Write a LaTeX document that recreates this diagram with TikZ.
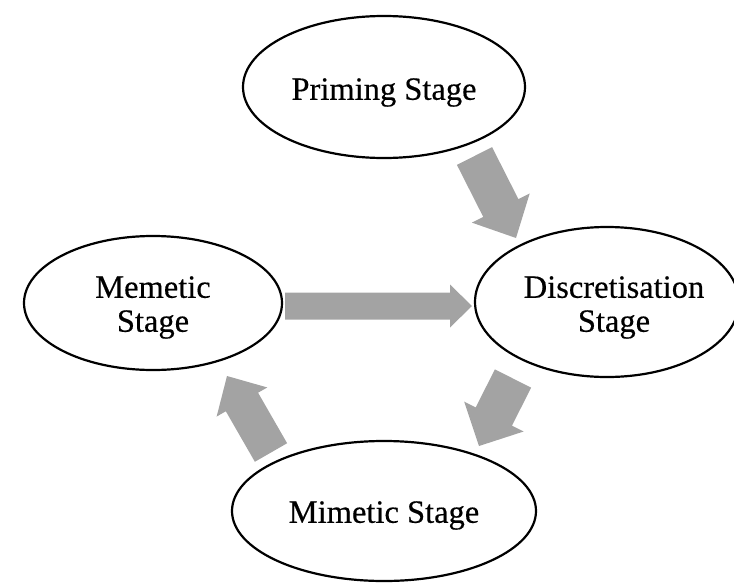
\documentclass[tikz,border=0pt]{standalone}
\usepackage{fontspec}
\setmainfont{Liberation Serif}[FakeBold=0.4]
\usetikzlibrary{shapes.geometric,calc}
\definecolor{arrowgrey}{RGB}{163,163,163}

% Block arrow: #1 tail coordinate, #2 tip coordinate,
% #3 half shaft width, #4 half head width, #5 head length
\newcommand{\blockarrow}[5]{%
  \coordinate (#1-neck) at ($(#2)!#5!(#1)$);
  \fill[arrowgrey]
    ($(#1)!#3!90:(#2)$) -- ($(#1-neck)!#3!90:(#2)$) --
    ($(#1-neck)!#4!90:(#2)$) -- (#2) --
    ($(#1-neck)!#4!-90:(#2)$) -- ($(#1-neck)!#3!-90:(#2)$) --
    ($(#1)!#3!-90:(#2)$) -- cycle;}

\tikzset{
  stage/.style={ellipse, draw=black, line width=2.2pt, fill=white,
    inner sep=0pt},
  stagetext/.style={inner sep=0pt, align=center,
    font=\fontsize{32.5}{34}\selectfont}
}

\begin{document}
\begin{tikzpicture}[x=1pt, y=-1pt]
  \useasboundingbox (0,0) rectangle (734,584);

  % stage outlines
  \node[stage, minimum width=282pt, minimum height=142pt] (prime) at (384,87) {};
  \node[stage, minimum width=258pt, minimum height=134pt] (meme) at (153,303) {};
  \node[stage, minimum width=264pt, minimum height=150pt] (disc) at (607,302) {};
  \node[stage, minimum width=304pt, minimum height=140pt] (mime) at (384,511) {};

  % stage names
  \node[stagetext] (prime-t) at ([yshift=-5.5pt]prime.center) {Priming Stage};
  \node[stagetext] (meme-t) at ([yshift=-4.5pt]meme.center) {Memetic\\Stage};
  \node[stagetext] (disc-t) at ([xshift=7pt,yshift=-5.5pt]disc.center) {Discretisation\\Stage};
  \node[stagetext] (mime-t) at ([yshift=-4.5pt]mime.center) {Mimetic Stage};

  % arrow end points
  \coordinate (a1s) at (474.5,156);  \coordinate (a1e) at (516,238);
  \coordinate (a2s) at (285,306);    \coordinate (a2e) at (472,306);
  \coordinate (a3s) at (513,378.5);  \coordinate (a3e) at (479,446);
  \coordinate (a4s) at (271,452.5);  \coordinate (a4e) at (227,376);

  \blockarrow{a1s}{a1e}{19.7pt}{32.4pt}{33.6pt}
  \blockarrow{a2s}{a2e}{13.5pt}{21.5pt}{22pt}
  \blockarrow{a3s}{a3e}{20.3pt}{33.3pt}{33pt}
  \blockarrow{a4s}{a4e}{18.6pt}{29.2pt}{30pt}
\end{tikzpicture}
\end{document}
